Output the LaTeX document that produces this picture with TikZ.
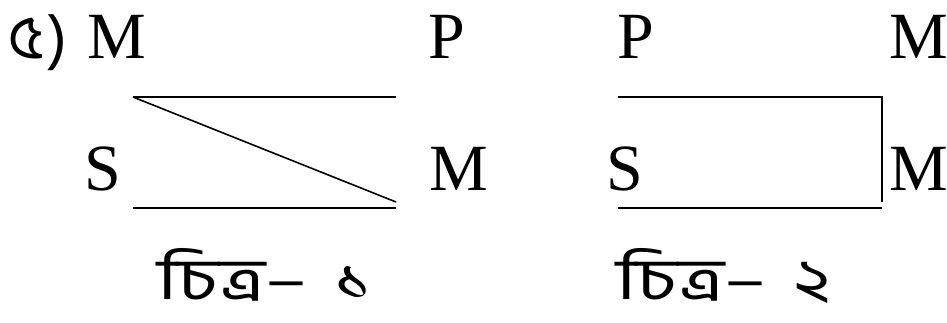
\documentclass[tikz,border=0pt]{standalone}
\usepackage{fontspec}
\setmainfont{Liberation Serif}
\newfontfamily\bnfont[Script=Bengali]{Hind Siliguri}
\newcommand{\capwide}[1]{\scalebox{1.34}[1]{#1}}
\begin{document}
\begin{tikzpicture}[x=1pt,y=-1pt,
  lbl/.style={inner sep=0pt,anchor=base west,font=\fontsize{66}{70}\selectfont},
  bnl/.style={inner sep=0pt,anchor=base west,font=\bnfont\fontsize{58}{64}\selectfont},
  ln/.style={line width=1.6pt}]
\useasboundingbox (0,0) rectangle (947,322);
% left panel
\node[inner sep=0pt,anchor=base west,font=\bnfont\fontsize{62}{66}\selectfont] (num) at (8,58) {৫\hspace{0.08em})};
\node[lbl] (m1) at (87,58) {M};
\node[lbl] (p1) at (428,58) {P};
\node[lbl] (s1) at (84,190) {S};
\node[lbl] (m2) at (429,190) {M};
\coordinate (a1) at (133,97);
\coordinate (b1) at (396,97);
\coordinate (c1) at (396,202);
\coordinate (d1) at (133,208);
\coordinate (e1) at (396,208);
\draw[ln] (a1) -- (b1);
\draw[ln] (a1) -- (c1);
\draw[ln] (d1) -- (e1);
\node[bnl] (cap1) at (157,299) {\capwide{চিত্র–\hspace{0.35em}১}};
% right panel
\node[lbl] (p2) at (617,58) {P};
\node[lbl] (m3) at (889,58) {M};
\node[lbl] (s2) at (606,190) {S};
\node[lbl] (m4) at (889,190) {M};
\coordinate (a2) at (618,97);
\coordinate (b2) at (882,97);
\coordinate (c2) at (882,202);
\coordinate (d2) at (618,208);
\coordinate (e2) at (882,208);
\draw[ln] (a2) -- (b2) -- (c2);
\draw[ln] (d2) -- (e2);
\node[bnl] (cap2) at (616,299) {\capwide{চিত্র–\hspace{0.35em}২}};
\end{tikzpicture}
\end{document}
